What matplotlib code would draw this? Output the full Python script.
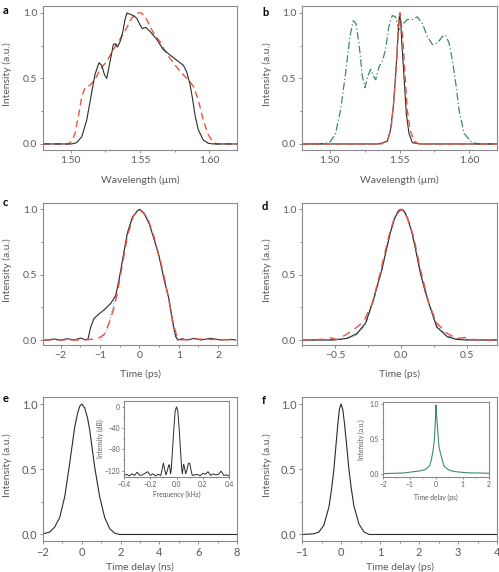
import matplotlib
matplotlib.use("Agg")
import matplotlib.pyplot as plt
from matplotlib.ticker import MultipleLocator

plt.rcParams['font.family'] = ['Lato', 'DejaVu Sans']

# ---- data ----
# a: spectra
a_black_w = [1.48, 1.5007, 1.5043, 1.508, 1.5115, 1.5151, 1.5175, 1.5204, 1.5224, 1.5243, 1.526, 1.5284, 1.5308, 1.532, 1.5337, 1.5356, 1.5375, 1.5392, 1.5406, 1.5428, 1.5452, 1.5476, 1.55, 1.5517, 1.5541, 1.5572, 1.562, 1.5668, 1.5716, 1.5764, 1.5813, 1.5837, 1.586, 1.588, 1.5897, 1.592, 1.5957, 1.5993, 1.603, 1.62]
a_black_i = [0, 0, 0.01, 0.056, 0.18, 0.39, 0.53, 0.62, 0.60, 0.53, 0.50, 0.63, 0.76, 0.765, 0.74, 0.78, 0.85, 0.95, 1.0, 0.99, 0.98, 0.96, 0.91, 0.88, 0.89, 0.86, 0.80, 0.72, 0.68, 0.64, 0.60, 0.55, 0.46, 0.34, 0.22, 0.11, 0.03, 0.005, 0, 0]
a_red_w = [1.48, 1.4983, 1.5007, 1.5031, 1.5055, 1.508, 1.5103, 1.514, 1.5175, 1.5212, 1.526, 1.5308, 1.5356, 1.5404, 1.544, 1.5476, 1.5512, 1.5548, 1.5596, 1.5644, 1.5692, 1.574, 1.58, 1.5849, 1.5885, 1.592, 1.5957, 1.5993, 1.6029, 1.6053, 1.62]
a_red_i = [0, 0, 0.02, 0.08, 0.21, 0.36, 0.43, 0.45, 0.49, 0.57, 0.63, 0.72, 0.80, 0.885, 0.96, 1.0, 1.0, 0.95, 0.85, 0.78, 0.69, 0.62, 0.54, 0.49, 0.44, 0.34, 0.18, 0.07, 0.01, 0, 0]

# b: spectra
b_black_w = [1.48, 1.535, 1.5412, 1.5436, 1.5456, 1.5472, 1.5484, 1.5493, 1.5501, 1.5509, 1.5518, 1.5532, 1.5549, 1.5568, 1.5592, 1.565, 1.62]
b_black_i = [0, 0, 0.02, 0.11, 0.29, 0.52, 0.72, 0.90, 1.0, 0.92, 0.75, 0.52, 0.23, 0.08, 0.01, 0, 0]
b_red_w = [1.48, 1.537, 1.5417, 1.5441, 1.546, 1.5477, 1.5489, 1.5505, 1.5523, 1.554, 1.5556, 1.5576, 1.5604, 1.564, 1.62]
b_red_i = [0, 0, 0.03, 0.13, 0.34, 0.59, 0.85, 1.0, 0.82, 0.52, 0.26, 0.11, 0.02, 0, 0]
b_green_w = [1.48, 1.492, 1.4969, 1.5005, 1.5041, 1.5077, 1.5113, 1.5144, 1.5168, 1.5187, 1.5209, 1.5233, 1.5252, 1.5273, 1.5293, 1.5312, 1.5329, 1.5353, 1.5376, 1.54, 1.5424, 1.5448, 1.5472, 1.5496, 1.552, 1.5556, 1.5592, 1.5628, 1.5664, 1.57, 1.5736, 1.5772, 1.5808, 1.5832, 1.5856, 1.588, 1.5904, 1.5928, 1.5964, 1.6012, 1.606, 1.62]
b_green_i = [0, 0, 0.005, 0.02, 0.08, 0.26, 0.54, 0.82, 0.94, 0.92, 0.77, 0.52, 0.43, 0.52, 0.57, 0.52, 0.49, 0.59, 0.63, 0.72, 0.90, 0.98, 0.97, 0.87, 0.91, 0.95, 0.95, 0.97, 0.92, 0.82, 0.76, 0.77, 0.82, 0.83, 0.77, 0.64, 0.46, 0.26, 0.08, 0.02, 0, 0]

# c: temporal profiles
c_black_t = [-2.45, -2.34, -2.17, -2.0, -1.83, -1.66, -1.49, -1.36, -1.305, -1.237, -1.153, -1.025, -0.898, -0.729, -0.602, -0.517, -0.432, -0.305, -0.178, -0.051, 0.017, 0.119, 0.246, 0.373, 0.5, 0.627, 0.754, 0.839, 0.924, 0.983, 1.09, 1.22, 1.39, 1.56, 1.81, 2.07, 2.32, 2.45]
c_black_i = [0, 0, 0.008, 0, 0.01, 0, 0.015, 0, 0.01, 0.10, 0.165, 0.20, 0.23, 0.28, 0.34, 0.46, 0.61, 0.82, 0.94, 0.99, 1.0, 0.97, 0.89, 0.77, 0.64, 0.46, 0.31, 0.15, 0.025, 0, 0.01, 0, 0.013, 0, 0.013, 0, 0.005, 0]
c_red_t = [-2.45, -1.4, -1.24, -1.07, -0.9, -0.77, -0.65, -0.56, -0.43, -0.3, -0.15, 0.0, 0.2, 0.37, 0.54, 0.66, 0.77, 0.86, 0.95, 1.05, 1.4, 1.8, 2.45]
c_red_i = [0, 0, 0.005, 0.01, 0.04, 0.13, 0.24, 0.36, 0.58, 0.8, 0.95, 1.0, 0.94, 0.79, 0.60, 0.44, 0.27, 0.13, 0.03, 0, 0.008, 0.005, 0]
c_blue_t = [-1.0, -0.81, -0.69, -0.56, -0.43, -0.3, -0.15, 0.0, 0.2, 0.37, 0.54, 0.71, 0.8, 0.88, 0.97]
c_blue_i = [0, 0.08, 0.23, 0.41, 0.6, 0.82, 0.95, 1.0, 0.94, 0.78, 0.58, 0.38, 0.2, 0.05, 0]

# d: temporal profiles
d_black_t = [-0.75, -0.51, -0.41, -0.335, -0.27, -0.21, -0.18, -0.146, -0.11, -0.082, -0.05, -0.02, 0.0, 0.02, 0.05, 0.082, 0.11, 0.146, 0.18, 0.21, 0.27, 0.35, 0.42, 0.5, 0.75]
d_black_i = [0, 0, 0.013, 0.05, 0.13, 0.31, 0.42, 0.54, 0.70, 0.82, 0.93, 0.99, 1.0, 0.99, 0.93, 0.82, 0.69, 0.51, 0.38, 0.28, 0.10, 0.025, 0.005, 0, 0]
d_red_t = [-0.75, -0.59, -0.54, -0.49, -0.42, -0.36, -0.285, -0.22, -0.16, -0.095, -0.05, 0.0, 0.044, 0.095, 0.146, 0.21, 0.27, 0.35, 0.42, 0.5, 0.54, 0.6, 0.75]
d_red_i = [0, 0.005, 0.018, 0.005, 0.04, 0.08, 0.14, 0.28, 0.51, 0.79, 0.94, 1.0, 0.94, 0.79, 0.54, 0.28, 0.13, 0.05, 0.013, 0.02, 0.005, 0, 0]
d_blue_t = [-0.75, -0.45, -0.35, -0.27, -0.21, -0.146, -0.082, -0.03, 0.0, 0.03, 0.082, 0.146, 0.21, 0.27, 0.35, 0.45, 0.75]
d_blue_i = [0, 0.005, 0.03, 0.12, 0.30, 0.54, 0.83, 0.98, 1.0, 0.98, 0.83, 0.53, 0.29, 0.11, 0.03, 0.005, 0]

# e: autocorrelation (ns) + RF spectrum inset
e_t = [-2, -1.66, -1.4, -1.14, -0.88, -0.63, -0.37, -0.2, -0.1, 0.0, 0.15, 0.3, 0.41, 0.66, 0.92, 1.18, 1.44, 1.7, 1.95, 8]
e_i = [0.005, 0.018, 0.056, 0.13, 0.29, 0.54, 0.82, 0.94, 0.985, 1.0, 0.97, 0.89, 0.8, 0.52, 0.29, 0.13, 0.044, 0.01, 0, 0]
e_in_f = [-0.4, -0.38, -0.36, -0.34, -0.32, -0.30, -0.28, -0.26, -0.24, -0.22, -0.20, -0.18, -0.16, -0.14, -0.12, -0.11, -0.10, -0.09, -0.08, -0.07, -0.06, -0.055, -0.05, -0.045, -0.04, -0.03, -0.02, -0.01, 0.0, 0.01, 0.02, 0.03, 0.04, 0.045, 0.05, 0.055, 0.06, 0.07, 0.08, 0.09, 0.10, 0.11, 0.12, 0.14, 0.16, 0.18, 0.20, 0.22, 0.24, 0.26, 0.28, 0.30, 0.32, 0.34, 0.36, 0.38, 0.40]
e_in_db = [-129, -127, -130, -126, -129, -123, -129, -128, -125, -122, -129, -126, -130, -127, -129, -118, -106, -118, -128, -120, -110, -109, -116, -126, -118, -80, -40, -8, 0, -8, -40, -80, -118, -126, -114, -108, -113, -126, -118, -107, -106, -118, -129, -128, -127, -130, -125, -127, -122, -129, -126, -128, -127, -121, -129, -128, -130]

# f: autocorrelation (ps) + inset
f_t = [-1, -0.7, -0.57, -0.44, -0.31, -0.25, -0.185, -0.13, -0.08, -0.04, 0.0, 0.045, 0.09, 0.14, 0.2, 0.26, 0.33, 0.46, 0.59, 0.72, 4.0]
f_i = [0, 0.005, 0.018, 0.07, 0.21, 0.33, 0.49, 0.68, 0.85, 0.96, 1.0, 0.96, 0.85, 0.7, 0.51, 0.36, 0.22, 0.08, 0.02, 0, 0]
f_in_t = [-2, -1.6, -1.2, -0.8, -0.6, -0.42, -0.3, -0.23, -0.17, -0.11, -0.06, -0.02, 0.0, 0.02, 0.07, 0.11, 0.15, 0.21, 0.3, 0.49, 0.7, 0.93, 1.3, 1.56, 2.0]
f_in_i = [0.01, 0.015, 0.02, 0.04, 0.05, 0.065, 0.1, 0.13, 0.22, 0.34, 0.5, 0.8, 0.99, 0.85, 0.6, 0.4, 0.33, 0.24, 0.12, 0.06, 0.04, 0.03, 0.02, 0.02, 0.015]

BLACK = '#2b2b2b'
RED = '#e8553f'
GREEN = '#3f8a68'
BLUE = '#7d9bd0'
GRAY = '#5a5a5a'
SPINE = '#8a8a8a'

W, H = 499, 572
fig = plt.figure(figsize=(W / 100, H / 100), dpi=100)


def box(l, t, r, b):
    return [l / W, 1 - b / H, (r - l) / W, (b - t) / H]


def style(ax, fs=7.5, tick_len=2.5):
    for s in ax.spines.values():
        s.set_color(SPINE)
        s.set_linewidth(0.8)
    ax.tick_params(which='both', direction='out', colors=SPINE, labelcolor=GRAY,
                   labelsize=fs, width=0.7, pad=1.5)
    ax.tick_params(which='major', length=tick_len)
    ax.tick_params(which='minor', length=tick_len * 0.7)


def spectrum_axes(ax):
    ax.set_xlim(1.48, 1.62)
    ax.set_ylim(-0.046, 1.053)
    ax.set_xticks([1.50, 1.55, 1.60])
    ax.set_xticklabels(['1.50', '1.55', '1.60'])
    ax.xaxis.set_minor_locator(MultipleLocator(0.025))
    ax.set_yticks([0, 0.5, 1.0])
    ax.set_yticklabels(['0.0', '0.5', '1.0'])
    ax.yaxis.set_minor_locator(MultipleLocator(0.25))
    ax.set_xlabel('Wavelength (µm)', fontsize=7.5, color=GRAY)
    ax.xaxis.set_label_coords(0.5, -0.18)


def ylab(ax, x):
    ax.set_ylabel('Intensity (a.u.)', fontsize=7.5, color=GRAY)
    ax.yaxis.set_label_coords(x, 0.53)


# a
ax = fig.add_axes(box(43, 6, 237, 150))
ax.plot(a_red_w, a_red_i, color=RED, lw=1.0, dashes=(5, 3))
ax.plot(a_black_w, a_black_i, color=BLACK, lw=0.8)
spectrum_axes(ax)
style(ax)
ylab(ax, -0.16)

# b
ax = fig.add_axes(box(302, 6, 497, 150))
ax.plot(b_green_w, b_green_i, color=GREEN, lw=0.9, dashes=(6, 2, 1, 2))
ax.plot(b_black_w, b_black_i, color=BLACK, lw=0.8)
ax.plot(b_red_w, b_red_i, color=RED, lw=1.0, dashes=(5, 3))
spectrum_axes(ax)
style(ax)
ylab(ax, -0.154)

# c
ax = fig.add_axes(box(43, 203, 237, 345))
ax.plot(c_blue_t, c_blue_i, color=BLUE, lw=0.8, dashes=(1, 1.5))
ax.plot(c_black_t, c_black_i, color=BLACK, lw=0.8)
ax.plot(c_red_t, c_red_i, color=RED, lw=1.0, dashes=(6, 4))
ax.set_xlim(-2.45, 2.48)
ax.set_ylim(-0.038, 1.048)
ax.set_xticks([-2, -1, 0, 1, 2])
ax.set_xticklabels(['\u22122', '\u22121', '0', '1', '2'])
ax.xaxis.set_minor_locator(MultipleLocator(0.5))
ax.set_yticks([0, 0.5, 1.0])
ax.set_yticklabels(['0.0', '0.5', '1.0'])
ax.yaxis.set_minor_locator(MultipleLocator(0.25))
ax.set_xlabel('Time (ps)', fontsize=7.5, color=GRAY)
ax.xaxis.set_label_coords(0.5, -0.169)
style(ax)
ylab(ax, -0.16)

# d
ax = fig.add_axes(box(302, 203, 497, 345))
ax.plot(d_blue_t, d_blue_i, color=BLUE, lw=0.8, dashes=(4, 1.5, 1, 1.5))
ax.plot(d_black_t, d_black_i, color=BLACK, lw=0.8)
ax.plot(d_red_t, d_red_i, color=RED, lw=1.0, dashes=(6, 4))
ax.set_xlim(-0.753, 0.728)
ax.set_ylim(-0.038, 1.048)
ax.set_xticks([-0.5, 0, 0.5])
ax.set_xticklabels(['\u22120.5', '0.0', '0.5'])
ax.xaxis.set_minor_locator(MultipleLocator(0.25))
ax.set_yticks([0, 0.5, 1.0])
ax.set_yticklabels(['0.0', '0.5', '1.0'])
ax.yaxis.set_minor_locator(MultipleLocator(0.25))
ax.set_xlabel('Time (ps)', fontsize=7.5, color=GRAY)
ax.xaxis.set_label_coords(0.5, -0.169)
style(ax)
ylab(ax, -0.154)

# e
ax = fig.add_axes(box(43, 397, 237, 541))
ax.plot(e_t, e_i, color=BLACK, lw=0.8)
ax.set_xlim(-2, 8)
ax.set_ylim(-0.05, 1.054)
ax.set_xticks([-2, 0, 2, 4, 6, 8])
ax.set_xticklabels(['\u22122', '0', '2', '4', '6', '8'])
ax.xaxis.set_minor_locator(MultipleLocator(1))
ax.set_yticks([0, 0.5, 1.0])
ax.set_yticklabels(['0.0', '0.5', '1.0'])
ax.yaxis.set_minor_locator(MultipleLocator(0.25))
ax.set_xlabel('Time delay (ns)', fontsize=7.5, color=GRAY)
ax.xaxis.set_label_coords(0.5, -0.146)
style(ax, fs=8)
ylab(ax, -0.16)

ins = fig.add_axes(box(124, 401, 229, 477))
ins.plot(e_in_f, e_in_db, color=BLACK, lw=0.7)
ins.set_xlim(-0.4, 0.4)
ins.set_ylim(-132, 11)
ins.set_xticks([-0.4, -0.2, 0, 0.2, 0.4])
ins.set_xticklabels(['\u22120.4', '\u22120.2', '0.0', '0.2', '0.4'])
ins.xaxis.set_minor_locator(MultipleLocator(0.1))
ins.set_yticks([0, -40, -80, -120])
ins.set_yticklabels(['0', '\u221240', '\u221280', '\u2212120'])
ins.yaxis.set_minor_locator(MultipleLocator(20))
ins.set_xlabel('Frequency (kHz)', fontsize=4.8, color=GRAY)
ins.xaxis.set_label_coords(0.5, -0.184)
ins.set_ylabel('Intensity (dB)', fontsize=4.8, color=GRAY)
ins.yaxis.set_label_coords(-0.19, 0.5)
style(ins, fs=4.8, tick_len=1.5)

# f
ax = fig.add_axes(box(302, 397, 497, 541))
ax.plot(f_t, f_i, color=BLACK, lw=0.8)
ax.set_xlim(-1, 4)
ax.set_ylim(-0.05, 1.054)
ax.set_xticks([-1, 0, 1, 2, 3, 4])
ax.set_xticklabels(['\u22121', '0', '1', '2', '3', '4'])
ax.xaxis.set_minor_locator(MultipleLocator(0.5))
ax.set_yticks([0, 0.5, 1.0])
ax.set_yticklabels(['0.0', '0.5', '1.0'])
ax.yaxis.set_minor_locator(MultipleLocator(0.25))
ax.set_xlabel('Time delay (ps)', fontsize=7.5, color=GRAY)
ax.xaxis.set_label_coords(0.5, -0.146)
style(ax, fs=8)
ylab(ax, -0.154)

ins = fig.add_axes(box(383, 402, 489, 477))
ins.plot(f_in_t, f_in_i, color=GREEN, lw=0.8)
ins.set_xlim(-2, 2)
ins.set_ylim(-0.038, 1.033)
ins.set_xticks([-2, -1, 0, 1, 2])
ins.set_xticklabels(['\u22122', '\u22121', '0', '1', '2'])
ins.xaxis.set_minor_locator(MultipleLocator(0.5))
ins.set_yticks([0, 0.5, 1.0])
ins.set_yticklabels(['0.0', '0.5', '1.0'])
ins.yaxis.set_minor_locator(MultipleLocator(0.25))
ins.set_xlabel('Time delay (ps)', fontsize=4.8, color=GRAY)
ins.xaxis.set_label_coords(0.5, -0.227)
ins.set_ylabel('Intensity (a.u.)', fontsize=4.8, color=GRAY)
ins.yaxis.set_label_coords(-0.17, 0.5)
style(ins, fs=4.8, tick_len=1.5)

# panel letters
for letter, x, y in [('a', 3, 10), ('b', 262, 12), ('c', 3, 203), ('d', 262, 207), ('e', 3, 399), ('f', 262, 401)]:
    fig.text(x / W, 1 - y / H, letter, fontsize=8, fontweight='bold', ha='left', va='center')

fig.savefig('out.png', dpi=100)
